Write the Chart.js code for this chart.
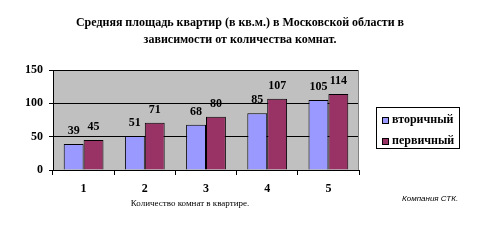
<!DOCTYPE html>
<html>
<head>
<meta charset="utf-8">
<script src="https://cdn.jsdelivr.net/npm/chart.js@4/dist/chart.umd.min.js"></script>
<style>
html,body{margin:0;padding:0;background:#fff;}
canvas{display:block;}
</style>
</head>
<body>
<canvas id="c" width="480" height="241"></canvas>
<script>
const categories = ['1', '2', '3', '4', '5'];
const secondary = [39, 51, 68, 85, 105];
const primary = [45, 71, 80, 107, 114];
const seriesNames = ['вторичный', 'первичный'];
const titleLines = ['Средняя площадь квартир (в кв.м.) в Московской области в', 'зависимости от количества комнат.'];
const xAxisTitle = 'Количество комнат в квартире.';
const footnote = 'Компания СТК.';
const yTicks = [0, 50, 100, 150];

const SERIF = '"Liberation Serif", "Times New Roman", serif';
const SANS = '"Liberation Sans", Arial, sans-serif';

const extras = {
  id: 'extras',
  beforeDraw(chart) {
    const {ctx, chartArea: a} = chart;
    ctx.save();
    ctx.fillStyle = '#C0C0C0';
    ctx.fillRect(a.left, a.top, a.right - a.left, a.bottom - a.top);
    ctx.restore();
  },
  afterDraw(chart) {
    const {ctx, chartArea: a} = chart;
    ctx.save();
    ctx.strokeStyle = '#808080';
    ctx.lineWidth = 1;
    ctx.beginPath();
    ctx.moveTo(a.right - 0.5, a.top);
    ctx.lineTo(a.right - 0.5, a.bottom);
    ctx.stroke();
    // data labels
    ctx.fillStyle = '#000';
    ctx.font = 'bold 12px ' + SERIF;
    ctx.textAlign = 'center';
    ctx.textBaseline = 'middle';
    chart.data.datasets.forEach((ds, i) => {
      chart.getDatasetMeta(i).data.forEach((el, j) => {
        ctx.fillText(String(ds.data[j]), el.x, el.y - 13);
      });
    });
    // x axis title
    ctx.font = '9px ' + SERIF;
    ctx.fillText(xAxisTitle, 190, 204);
    // footnote
    ctx.font = 'italic 8px ' + SANS;
    ctx.textAlign = 'left';
    ctx.fillText(footnote, 402, 199);
    // legend
    const lx = 376, ly = 107, lw = 84, lh = 42;
    ctx.fillStyle = '#fff';
    ctx.fillRect(lx, ly, lw, lh);
    ctx.strokeStyle = '#000';
    ctx.strokeRect(lx + 0.5, ly + 0.5, lw - 1, lh - 1);
    const ys = [119.5, 141];
    chart.data.datasets.forEach((ds, i) => {
      ctx.fillStyle = ds.backgroundColor;
      ctx.fillRect(382, Math.round(ys[i]) - 3, 7, 7);
      ctx.strokeStyle = '#000';
      ctx.strokeRect(382.5, Math.round(ys[i]) - 2.5, 6, 6);
      ctx.fillStyle = '#000';
      ctx.font = 'bold 12px ' + SERIF;
      ctx.textAlign = 'left';
      ctx.textBaseline = 'middle';
      ctx.fillText(ds.label, 392, ys[i]);
    });
    ctx.restore();
  }
};

new Chart(document.getElementById('c'), {
  type: 'bar',
  data: {
    labels: categories,
    datasets: [
      {label: seriesNames[0], data: secondary, backgroundColor: '#9999FF', borderColor: '#000', borderWidth: 1, yAxisID: 'y'},
      {label: seriesNames[1], data: primary, backgroundColor: '#993366', borderColor: '#000', borderWidth: 1, yAxisID: 'y'}
    ]
  },
  options: {
    responsive: false,
    animation: false,
    events: [],
    layout: {padding: 0},
    datasets: {bar: {categoryPercentage: 0.65, barPercentage: 1}},
    plugins: {
      legend: {display: false},
      tooltip: {enabled: false},
      title: {
        display: true,
        text: titleLines,
        color: '#000',
        font: {family: SERIF, size: 12, weight: 'bold', lineHeight: 17 / 12},
        padding: {top: 14, bottom: 22}
      }
    },
    scales: {
      x: {
        afterFit: s => { s.height = 71; },
        grid: {display: true, drawOnChartArea: false, drawTicks: true, tickLength: 5, color: '#000', offset: true},
        border: {color: '#000'},
        ticks: {color: '#000', font: {family: SERIF, size: 12, weight: 'bold'}, padding: 7}
      },
      y: {
        min: 0, max: 150,
        afterFit: s => { s.width = 53; },
        afterBuildTicks: s => { s.ticks = yTicks.map(v => ({value: v})); },
        grid: {color: '#000', tickLength: 4, drawTicks: true},
        border: {color: '#000'},
        ticks: {color: '#000', font: {family: SERIF, size: 12, weight: 'bold'}, padding: 6}
      },
      side: {
        position: 'right',
        min: 0, max: 150,
        afterFit: s => { s.width = 121; },
        grid: {display: false},
        border: {display: false},
        ticks: {display: false}
      }
    }
  },
  plugins: [extras]
});
</script>
</body>
</html>
